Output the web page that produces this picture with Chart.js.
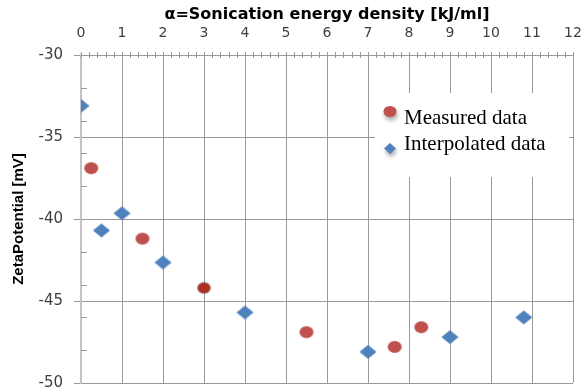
<!DOCTYPE html>
<html>
<head>
<meta charset="utf-8">
<script src="https://cdn.jsdelivr.net/npm/chart.js@4/dist/chart.umd.min.js"></script>
<style>
  html, body { margin: 0; padding: 0; background: #fff; }
  #wrap { position: relative; width: 583px; height: 392px; }
</style>
</head>
<body>
<div id="wrap"><canvas id="chart"></canvas></div>
<script>
// Sonication energy density (kJ/ml) vs zeta potential (mV)
const measuredX = [0.25, 1.5, 3, 5.5, 7.65, 8.3];
const measuredY = [-36.9, -41.2, -44.2, -46.9, -47.8, -46.6];
const interpolatedX = [0, 0.5, 1, 2, 4, 7, 9, 10.8];
const interpolatedY = [-33.1, -40.7, -39.65, -42.65, -45.7, -48.1, -47.2, -46.0];

const xTitle = 'α=Sonication energy density [kJ/ml]';
const yTitle = 'ZetaPotential [mV]';
const seriesNames = ['Measured data', 'Interpolated data'];
const xRange = [0, 12];
const yRange = [-50, -30];

const RED = '#C0504D';
const BLUE = '#4F81BD';

// Marker sprites (slightly wide, as in the original rendering)
function ellipseSprite(w, h, fill, stroke) {
  const c = document.createElement('canvas');
  c.width = w + 2; c.height = h + 2;
  const g = c.getContext('2d');
  g.beginPath();
  g.ellipse(c.width / 2, c.height / 2, w / 2, h / 2, 0, 0, Math.PI * 2);
  g.fillStyle = fill; g.fill();
  if (stroke) { g.strokeStyle = stroke; g.lineWidth = 1; g.stroke(); }
  return c;
}
function diamondSprite(w, h, fill) {
  const c = document.createElement('canvas');
  c.width = w + 2; c.height = h + 2;
  const g = c.getContext('2d');
  const cx = c.width / 2, cy = c.height / 2;
  g.beginPath();
  g.moveTo(cx, cy - h / 2); g.lineTo(cx + w / 2, cy);
  g.lineTo(cx, cy + h / 2); g.lineTo(cx - w / 2, cy); g.closePath();
  g.fillStyle = fill; g.fill();
  return c;
}
const redDot = ellipseSprite(14, 12, RED);
const redDotDark = ellipseSprite(13, 11, '#B3301E', 'rgba(79,129,189,0.55)');
const blueDiamond = diamondSprite(17, 14, BLUE);

const toPoints = (xs, ys) => xs.map((x, i) => ({ x, y: ys[i] }));

// Minor tick marks along the top and left axes
const minorTicks = {
  id: 'minorTicks',
  afterDraw(chart) {
    const { ctx, chartArea: a, scales: { x, y } } = chart;
    ctx.save();
    ctx.strokeStyle = '#999';
    ctx.lineWidth = 1;
    ctx.beginPath();
    const nx = Math.round((xRange[1] - xRange[0]) / 0.2);
    for (let i = 0; i <= nx; i++) {
      const px = Math.round(x.getPixelForValue(xRange[0] + i * 0.2)) + 0.5;
      ctx.moveTo(px, a.top - 3);
      ctx.lineTo(px, a.top + 3);
    }
    const ny = Math.round((yRange[1] - yRange[0]) / 2);
    for (let i = 1; i < ny; i++) {
      const py = Math.round(y.getPixelForValue(yRange[1] - i * 2)) + 0.5;
      ctx.moveTo(a.left, py);
      ctx.lineTo(a.left + 6, py);
    }
    ctx.stroke();
    ctx.restore();
  }
};

// Legend box placed inside the plot area
const innerLegend = {
  id: 'innerLegend',
  beforeDatasetsDraw(chart) {
    const { ctx, chartArea: a } = chart;
    const left = a.left + 294, top = a.top + 38;
    ctx.save();
    ctx.fillStyle = '#fff';
    ctx.fillRect(left, top, 194, 84);

    ctx.shadowColor = 'rgba(0,0,0,0.35)';
    ctx.shadowBlur = 4;
    ctx.shadowOffsetX = 1;
    ctx.shadowOffsetY = 3;
    ctx.fillStyle = RED;
    ctx.beginPath();
    ctx.ellipse(left + 15, top + 18.5, 6.5, 5.5, 0, 0, Math.PI * 2);
    ctx.fill();
    ctx.fillStyle = BLUE;
    ctx.beginPath();
    const dx = left + 15, dy = top + 55.5;
    ctx.moveTo(dx, dy - 5.5); ctx.lineTo(dx + 6, dy);
    ctx.lineTo(dx, dy + 5.5); ctx.lineTo(dx - 6, dy);
    ctx.closePath();
    ctx.fill();
    ctx.restore();

    ctx.save();
    ctx.fillStyle = '#000';
    ctx.font = '21px "Liberation Serif", "Times New Roman", serif';
    ctx.textBaseline = 'alphabetic';
    ctx.textAlign = 'left';
    ctx.fillText(seriesNames[0], left + 29, top + 31);
    ctx.fillText(seriesNames[1], left + 29, top + 57);
    ctx.restore();
  }
};

new Chart(document.getElementById('chart'), {
  type: 'scatter',
  data: {
    datasets: [
      {
        label: seriesNames[0],
        data: toPoints(measuredX, measuredY),
        pointStyle: measuredX.map((_, i) => (i === 2 ? redDotDark : redDot)),
        backgroundColor: RED,
        borderColor: RED
      },
      {
        label: seriesNames[1],
        data: toPoints(interpolatedX, interpolatedY),
        pointStyle: blueDiamond,
        backgroundColor: BLUE,
        borderColor: BLUE
      }
    ]
  },
  options: {
    responsive: true,
    maintainAspectRatio: false,
    animation: false,
    events: [],
    layout: { padding: { left: 0, right: 10, top: 0, bottom: 9 } },
    plugins: {
      legend: { display: false },
      tooltip: { enabled: false }
    },
    scales: {
      x: {
        type: 'linear',
        position: 'top',
        min: xRange[0],
        max: xRange[1],
        afterFit(scale) {
          scale.height = 55;
          scale.paddingLeft = 0;
          scale.paddingRight = 0;
        },
        title: {
          display: true,
          text: xTitle,
          color: '#000',
          font: { family: '"DejaVu Sans", sans-serif', size: 16, weight: 'bold' },
          padding: { top: 5, bottom: 0 }
        },
        ticks: {
          stepSize: 1,
          autoSkip: false,
          maxRotation: 0,
          padding: 13,
          color: '#404040',
          font: { family: '"DejaVu Sans", sans-serif', size: 14 }
        },
        grid: { color: '#999', lineWidth: 1, drawTicks: false },
        border: { color: '#999', width: 1 }
      },
      y: {
        type: 'linear',
        position: 'left',
        min: yRange[0],
        max: yRange[1],
        afterFit(scale) {
          scale.width = 81;
          scale.paddingTop = 0;
          scale.paddingBottom = 0;
        },
        title: {
          display: true,
          text: yTitle,
          color: '#000',
          font: { family: '"Liberation Sans", Arial, sans-serif', size: 15, weight: 'bold' },
          padding: { top: 10, bottom: 0 }
        },
        ticks: {
          stepSize: 5,
          padding: 11,
          color: '#404040',
          font: { family: '"DejaVu Sans", sans-serif', size: 15 }
        },
        grid: { color: '#999', lineWidth: 1, tickLength: 7, tickColor: '#999' },
        border: { color: '#c4c4c4', width: 2 }
      }
    }
  },
  plugins: [innerLegend, minorTicks]
});
</script>
</body>
</html>
